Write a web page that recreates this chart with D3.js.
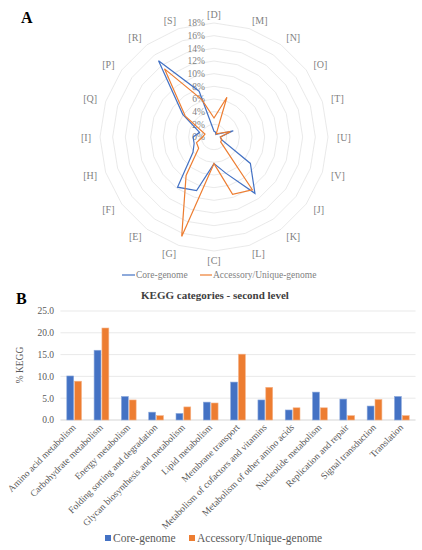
<!DOCTYPE html>
<html><head><meta charset="utf-8">
<script src="https://cdn.jsdelivr.net/npm/d3@7"></script>
<style>body{margin:0;background:#fff}svg{display:block}text{font-family:"Liberation Serif","Times New Roman",serif}</style>
</head><body>
<svg id="c" width="422" height="550"></svg>
<script>
// ---- Panel A: radar data (% of COG categories) ----
const radarCats = ["[D]","[M]","[N]","[O]","[T]","[U]","[V]","[J]","[K]","[L]","[C]","[G]","[E]","[F]","[H]","[I]","[Q]","[P]","[R]","[S]"];
const radarCore = [0.9, 0.8, 0.5, 0.8, 3.2, 1.0, 1.2, 7.1, 11.0, 6.0, 4.2, 8.9, 9.8, 4.1, 3.3, 3.3, 2.4, 6.1, 14.9, 7.6];
const radarAcc  = [3.0, 6.6, 0.6, 1.0, 2.7, 1.0, 1.3, 1.3, 10.3, 9.5, 4.2, 16.5, 7.5, 3.0, 2.9, 1.8, 1.5, 5.6, 13.3, 6.2];
const radarTicks = [0, 2, 4, 6, 8, 10, 12, 14, 16, 18];
const seriesNames = ["Core-genome", "Accessory/Unique-genome"];

// ---- Panel B: KEGG second level ----
const keggCats = ["Amino acid metabolism","Carbohydrate metabolism","Energy metabolism","Folding sorting and degradation","Glycan biosynthesis and metabolism","Lipid metabolism","Membrane transport","Metabolism of cofactors and vitamins","Metabolism of other amino acids","Nucleotide metabolism","Replication and repair","Signal transduction","Translation"];
const keggCore = [10.1, 16.0, 5.4, 1.8, 1.5, 4.1, 8.7, 4.6, 2.3, 6.4, 4.8, 3.2, 5.4];
const keggAcc  = [8.9, 21.1, 4.6, 1.0, 3.0, 3.9, 15.1, 7.5, 2.8, 2.8, 1.0, 4.7, 1.0];
const keggTicks = [0, 5, 10, 15, 20, 25];

const colors = ["#4472C4", "#ED7D31"];
const svg = d3.select("#c");

// ================= Panel A =================
const cx = 214, cy = 137;
const rScale = d3.scaleLinear().domain([0, 18]).range([0, 114]);
const n = radarCats.length;
const ang = i => i * 2 * Math.PI / n;
const pt = (i, v) => [cx + rScale(v) * Math.sin(ang(i)), cy - rScale(v) * Math.cos(ang(i))];

svg.append("text").attr("x", 21).attr("y", 23).attr("font-size", 16).attr("font-weight", "bold").text("A");

const gA = svg.append("g");
// rings
radarTicks.filter(t => t > 0).forEach(t => {
  const pts = d3.range(n).map(i => pt(i, t));
  gA.append("polygon").attr("points", pts.map(p => p.join(",")).join(" "))
    .attr("fill", "none").attr("stroke", "#e3e3e3").attr("stroke-width", 0.8);
});
// tick labels
gA.selectAll(".rt").data(radarTicks).enter().append("text")
  .attr("x", cx - 9).attr("y", d => cy - rScale(d)).attr("dy", "0.35em")
  .attr("text-anchor", "end").attr("font-size", 9.5).attr("fill", "#7f7f7f")
  .text(d => d + "%");
// category labels
radarCats.forEach((c, i) => {
  const s = Math.sin(ang(i)), co = Math.cos(ang(i));
  const R = rScale(18) + 9;
  const x = cx + R * s, y = cy - R * co;
  const anchor = Math.abs(s) < 0.2 ? "middle" : (s > 0 ? "start" : "end");
  gA.append("text").attr("x", x).attr("y", y).attr("dy", "0.35em")
    .attr("text-anchor", anchor).attr("font-size", 10).attr("fill", "#7f7f7f").text(c);
});
// series
const radarLine = d3.line().curve(d3.curveLinearClosed);
[radarCore, radarAcc].forEach((arr, k) => {
  gA.append("path").attr("d", radarLine(arr.map((v, i) => pt(i, v))))
    .attr("fill", "none").attr("stroke", colors[k]).attr("stroke-width", 1.2).attr("stroke-linejoin", "miter");
});
// legend A
const legA = [{x: 122, w: 13}, {x: 200, w: 12}];
seriesNames.forEach((s, k) => {
  gA.append("line").attr("x1", legA[k].x).attr("x2", legA[k].x + legA[k].w).attr("y1", 275).attr("y2", 275)
    .attr("stroke", colors[k]).attr("stroke-width", 1.2);
  gA.append("text").attr("x", legA[k].x + legA[k].w + 1).attr("y", 275).attr("dy", "0.35em")
    .attr("font-size", 9.5).attr("fill", "#7f7f7f").text(s);
});

// ================= Panel B =================
svg.append("text").attr("x", 16).attr("y", 304).attr("font-size", 16).attr("font-weight", "bold").text("B");
svg.append("text").attr("x", 215).attr("y", 299).attr("text-anchor", "middle")
  .attr("font-size", 11).attr("font-weight", "bold").attr("fill", "#404040").text("KEGG categories - second level");

const x0 = d3.scaleBand().domain(keggCats).range([60.5, 415.5]).paddingInner(0.46).paddingOuter(0.23);
const x1 = d3.scaleBand().domain([0, 1]).range([0, x0.bandwidth()]).paddingInner(0.12);
const y = d3.scaleLinear().domain([0, 25]).range([420, 311]);

const gB = svg.append("g");
// grid
gB.selectAll(".gl").data(keggTicks).enter().append("line")
  .attr("x1", 60.5).attr("x2", 415.5).attr("y1", d => y(d)).attr("y2", d => y(d))
  .attr("stroke", d => d === 0 ? "#d0d0d0" : "#e6e6e6").attr("stroke-width", 0.9);
gB.selectAll(".yt").data(keggTicks).enter().append("text")
  .attr("x", 54).attr("y", d => y(d)).attr("dy", "0.35em").attr("text-anchor", "end")
  .attr("font-size", 9.5).attr("fill", "#595959").text(d => d.toFixed(1));
svg.append("text").attr("transform", "translate(23,365) rotate(-90)").attr("text-anchor", "middle")
  .attr("font-size", 9.5).attr("fill", "#595959").text("% KEGG");

// bars
[keggCore, keggAcc].forEach((arr, k) => {
  gB.selectAll(".b" + k).data(arr).enter().append("rect")
    .attr("x", (d, i) => x0(keggCats[i]) + x1(k)).attr("width", x1.bandwidth())
    .attr("y", d => y(d)).attr("height", d => y(0) - y(d))
    .attr("fill", colors[k]).attr("stroke", k === 0 ? "#8fabdd" : "#f5b48a").attr("stroke-width", 0.6);
});
// x labels
gB.selectAll(".xl").data(keggCats).enter().append("text")
  .attr("transform", d => `translate(${x0(d) + x0.bandwidth() / 2 + 2},${y(0) + 8}) rotate(-45)`)
  .attr("text-anchor", "end").attr("font-size", 9.5).attr("fill", "#595959").text(d => d);

// legend B
const legB = [105, 189];
seriesNames.forEach((s, k) => {
  svg.append("rect").attr("x", legB[k]).attr("y", 535).attr("width", 6).attr("height", 6).attr("fill", colors[k]);
  svg.append("text").attr("x", legB[k] + 8).attr("y", 538).attr("dy", "0.35em")
    .attr("font-size", 11.5).attr("fill", "#595959").text(s);
});
</script>
</body></html>
